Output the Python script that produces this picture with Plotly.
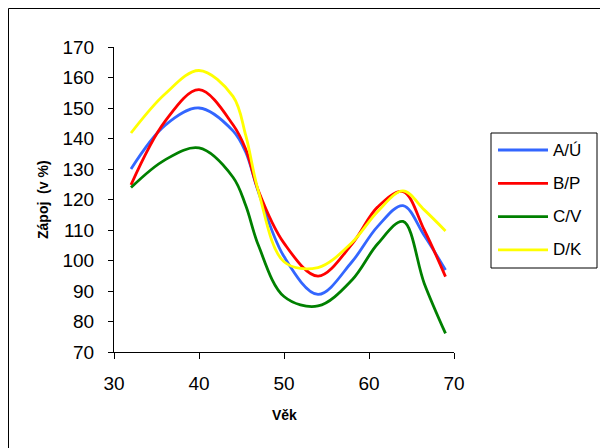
import plotly.graph_objects as go

# ---- data ----
age = [32, 36, 40, 44, 45.5, 47, 50, 54, 58, 61, 64, 66.5, 69]
a_u = [130.0, 144.3, 150.0, 142.5, 135.5, 122.4, 101.3, 88.9, 99.6, 111.1, 118.0, 108.2, 96.9]
b_p = [124.8, 145.6, 156.0, 144.5, 136.5, 122.8, 105.7, 94.9, 105.4, 117.5, 122.6, 110.0, 94.7]
c_v = [123.9, 133.0, 136.9, 127.3, 118.0, 104.9, 88.2, 85.1, 93.6, 105.4, 112.8, 92.5, 76.1]
d_k = [141.8, 154.6, 162.3, 153.8, 141.0, 122.6, 99.6, 97.7, 105.9, 116.0, 122.8, 116.6, 109.7]

names = ["A/Ú", "B/P", "C/V", "D/K"]
series = [a_u, b_p, c_v, d_k]
colors = ["#3366FF", "#FF0000", "#008000", "#FFFF00"]

x_ticks = [30, 40, 50, 60, 70]
y_ticks = [70, 80, 90, 100, 110, 120, 130, 140, 150, 160, 170]

FONT = "Liberation Sans, Arial, sans-serif"
W, H = 600, 448
ML, MR, MT, MB = 114, 146, 47, 96
PL, PR, PT, PB = ML, W - MR, MT, H - MB


def px(xp):
    return (xp - PL) / (PR - PL)


def py(yp):
    return (PB - yp) / (PB - PT)


fig = go.Figure()
for name, vals, col in zip(names, series, colors):
    fig.add_trace(go.Scatter(
        x=age, y=vals, name=name, mode="lines",
        line=dict(color=col, width=2.8, shape="spline", smoothing=1.0),
        showlegend=False,
    ))

shapes = []
annotations = []

# outer chart border (only left/top visible in the picture)
shapes.append(dict(type="rect", xref="paper", yref="paper",
                   x0=px(8.5), y0=py(8.5), x1=px(720), y1=py(620),
                   line=dict(color="black", width=1), fillcolor="rgba(0,0,0,0)"))

# custom legend
shapes.append(dict(type="rect", xref="paper", yref="paper",
                   x0=px(491), y0=py(133), x1=px(597), y1=py(268),
                   line=dict(color="black", width=1), fillcolor="white"))
for i, (name, col) in enumerate(zip(names, colors)):
    yc = 150 + i * 33.3
    shapes.append(dict(type="line", xref="paper", yref="paper",
                       x0=px(498), x1=px(548), y0=py(yc), y1=py(yc),
                       line=dict(color=col, width=2.8)))
    annotations.append(dict(text=name, xref="paper", yref="paper",
                            x=px(551), y=py(yc), xanchor="left", yanchor="middle",
                            showarrow=False, font=dict(family=FONT, size=17, color="black")))

# axis titles
annotations.append(dict(text="<b>Zápoj\u00a0\u00a0(v\u00a0%)</b>", xref="paper", yref="paper",
                        x=px(43), y=py(200), textangle=-90, showarrow=False,
                        xanchor="center", yanchor="middle",
                        font=dict(family=FONT, size=14, color="black")))
annotations.append(dict(text="<b>Věk</b>", xref="paper", yref="paper",
                        x=px(284), y=py(415), showarrow=False,
                        xanchor="center", yanchor="middle",
                        font=dict(family=FONT, size=14, color="black")))

fig.update_layout(
    width=W, height=H,
    margin=dict(l=ML, r=MR, t=MT, b=MB, pad=0),
    paper_bgcolor="white", plot_bgcolor="white",
    font=dict(family=FONT, color="black"),
    shapes=shapes, annotations=annotations,
    xaxis=dict(range=[30, 70], tickvals=x_ticks, ticktext=[str(v) for v in x_ticks],
               showgrid=False, zeroline=False, showline=True, linecolor="black", linewidth=1,
               ticks="outside", ticklen=6, tickcolor="black", tickwidth=1,
               tickfont=dict(family=FONT, size=19, color="black"), ticklabelstandoff=8),
    yaxis=dict(range=[70, 170], tickvals=y_ticks, ticktext=[str(v) for v in y_ticks],
               showgrid=False, zeroline=False, showline=True, linecolor="black", linewidth=1,
               ticks="outside", ticklen=5, tickcolor="black", tickwidth=1,
               tickfont=dict(family=FONT, size=19, color="black"), ticklabelstandoff=10),
)

fig.write_html("out.html")
